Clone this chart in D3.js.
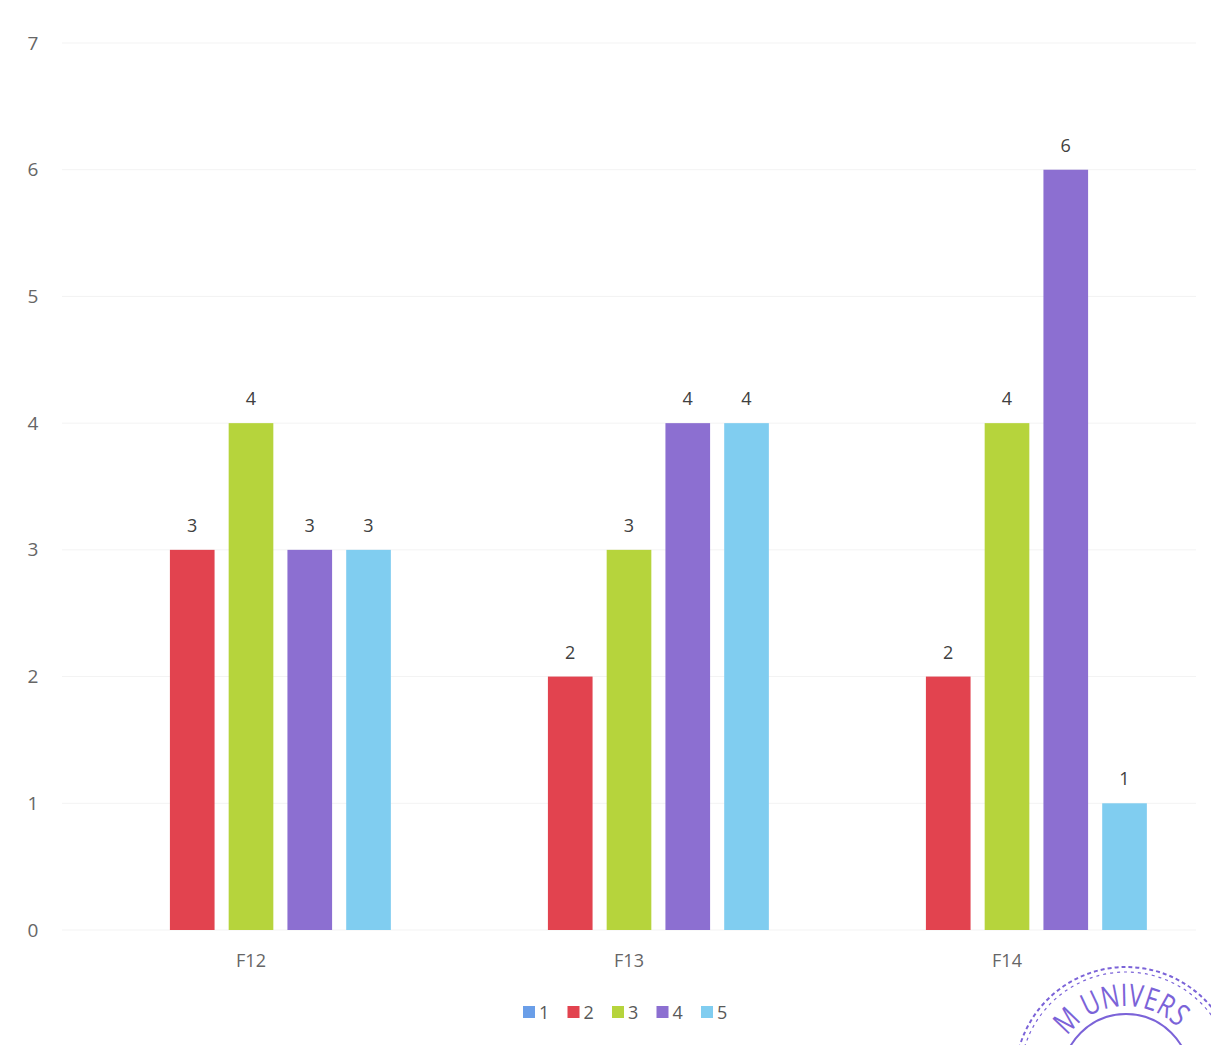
<!doctype html>
<html lang='en'>
  <head>
    <meta charset='utf-8'>
    <title>F12 - F14</title>
    <script src='https://d3js.org/d3.v7.min.js'></script>
    <style>
      body { margin: 0; background: #fff; }
      text { font-family: 'Open Sans', 'Liberation Sans', sans-serif; }
    </style>
  </head>
  <body>
    <svg width='1211' height='1045'></svg>
    <script>
      var categories = ['F12', 'F13', 'F14'];
      var seriesNames = ['1', '2', '3', '4', '5'];
      var values = {
        '1': [0, 0, 0],
        '2': [3, 2, 2],
        '3': [4, 3, 4],
        '4': [3, 4, 6],
        '5': [3, 4, 1]
      };
      var yTicks = [0, 1, 2, 3, 4, 5, 6, 7];
      var colors = ['#6a9ee8', '#e2434f', '#b6d43c', '#8c6fd1', '#80cdf0'];

      var svg = d3.select('svg'),
          margin = {top: 43, right: 15, bottom: 115, left: 62},
          width = +svg.attr('width') - margin.left - margin.right,
          height = +svg.attr('height') - margin.top - margin.bottom,
          g = svg.append('g').attr('transform', 'translate(' + margin.left + ',' + margin.top + ')');

      var x0 = d3.scaleBand()
                 .domain(categories)
                 .range([0, width])
                 .paddingInner(0.26)
                 .paddingOuter(0.13);

      var x1 = d3.scaleBand()
                 .domain(seriesNames)
                 .range([0, x0.bandwidth()])
                 .paddingInner(0.24)
                 .paddingOuter(0);

      var y = d3.scaleLinear()
                .domain([0, 7])
                .range([height, 0]);

      var color = d3.scaleOrdinal().domain(seriesNames).range(colors);

      // grid
      g.append('g')
        .selectAll('line')
        .data(yTicks)
        .enter().append('line')
        .attr('x1', 0)
        .attr('x2', width)
        .attr('y1', function(d) { return y(d); })
        .attr('y2', function(d) { return y(d); })
        .attr('stroke', '#f3f3f3')
        .attr('stroke-width', 1);

      // y axis labels
      var yAxis = g.append('g')
        .attr('transform', 'translate(-29,0)')
        .call(d3.axisLeft(y).tickValues(yTicks).tickFormat(d3.format('d')).tickSize(0).tickPadding(0));
      yAxis.select('.domain').remove();
      yAxis.selectAll('text')
        .attr('fill', '#666')
        .attr('font-size', 19)
        .attr('text-anchor', 'middle');

      // x axis labels
      var xAxis = g.append('g')
        .attr('transform', 'translate(0,' + height + ')')
        .call(d3.axisBottom(x0).tickSize(0).tickPadding(24));
      xAxis.select('.domain').remove();
      xAxis.selectAll('text')
        .attr('fill', '#666')
        .attr('font-size', 18);

      var rows = categories.map(function(c, i) {
        return seriesNames.map(function(s) { return {cat: c, key: s, value: values[s][i]}; });
      });

      var groups = g.selectAll('.group')
        .data(rows)
        .enter().append('g')
        .attr('transform', function(d, i) { return 'translate(' + x0(categories[i]) + ',0)'; });

      groups.selectAll('rect')
        .data(function(d) { return d.filter(function(e) { return e.value > 0; }); })
        .enter().append('rect')
        .attr('x', function(d) { return x1(d.key); })
        .attr('y', function(d) { return y(d.value); })
        .attr('width', x1.bandwidth())
        .attr('height', function(d) { return height - y(d.value); })
        .attr('fill', function(d) { return color(d.key); });

      groups.selectAll('.lbl')
        .data(function(d) { return d.filter(function(e) { return e.value > 0; }); })
        .enter().append('text')
        .attr('class', 'lbl')
        .attr('x', function(d) { return x1(d.key) + x1.bandwidth() / 2; })
        .attr('y', function(d) { return y(d.value) - 18; })
        .attr('text-anchor', 'middle')
        .attr('fill', '#404040')
        .attr('font-size', 18)
        .text(function(d) { return d.value; });

      // legend
      var legend = svg.append('g')
        .attr('transform', 'translate(523,1004)')
        .selectAll('g')
        .data(seriesNames)
        .enter().append('g')
        .attr('transform', function(d, i) { return 'translate(' + i * 44.5 + ',0)'; });

      legend.append('rect')
        .attr('width', 12)
        .attr('height', 12)
        .attr('y', 2)
        .attr('fill', function(d) { return color(d); });

      legend.append('text')
        .attr('x', 16)
        .attr('y', 15)
        .attr('fill', '#595959')
        .attr('font-size', 18)
        .text(function(d) { return d; });

      // stamp in the bottom-right corner
      var sc = [1126, 1078], rText = 72, a0 = -0.95, a1 = 0.82;
      var stamp = svg.append('g')
        .attr('transform', 'translate(' + sc[0] + ',' + sc[1] + ')')
        .attr('fill', 'none')
        .attr('stroke', '#7b63d8');
      stamp.append('circle').attr('r', 111).attr('stroke-dasharray', '4,3').attr('stroke-width', 2);
      stamp.append('circle').attr('r', 106).attr('stroke-dasharray', '3,4').attr('stroke-width', 1.2);
      stamp.append('circle').attr('r', 64).attr('stroke-width', 2);
      var p = d3.path();
      p.arc(0, 0, rText, a0 - Math.PI / 2, a1 - Math.PI / 2);
      stamp.append('path')
        .attr('id', 'stampArc')
        .attr('stroke', 'none')
        .attr('d', p.toString());
      stamp.append('text')
        .attr('fill', '#7b63d8')
        .attr('stroke', 'none')
        .attr('font-size', 31)
        .append('textPath')
        .attr('href', '#stampArc')
        .attr('textLength', rText * (a1 - a0) - 2)
        .attr('lengthAdjust', 'spacingAndGlyphs')
        .text('M UNIVERS');
    </script>
  </body>
</html>
